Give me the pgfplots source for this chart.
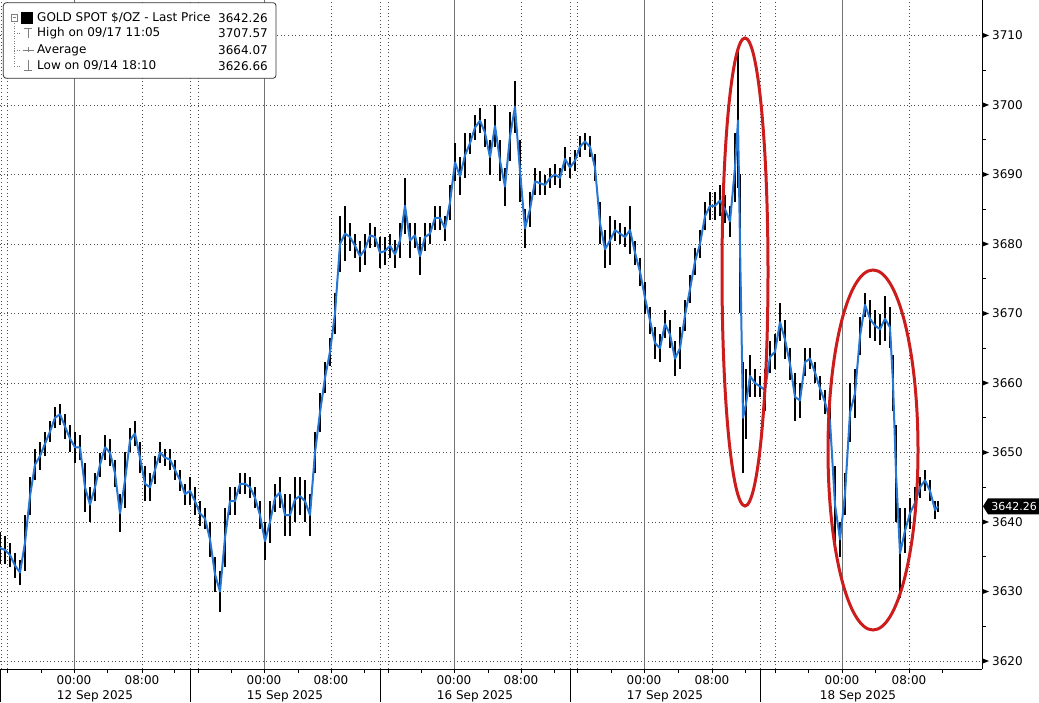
\documentclass[border=0pt]{standalone}
\usepackage{fontspec}
\setmainfont{DejaVu Sans}
\usepackage{pgfplots}
\pgfplotsset{compat=1.18}
\usepackage{pgfplotstable}
\definecolor{bbblue}{RGB}{38,118,212}
\definecolor{bbred}{RGB}{205,28,28}
\definecolor{gridgray}{RGB}{115,115,115}

\pgfplotstableread{
x h l
0 3638.5 3634
5 3638 3634
10 3637 3633.5
15 3635.5 3632
20 3634.5 3631
25 3641 3633
30 3646.5 3641
35 3650.5 3646
40 3651.5 3647.5
45 3653 3649.5
50 3654.5 3651.5
55 3656.5 3653.5
60 3657 3654
65 3655.5 3652
70 3654 3650
75 3653 3648.5
80 3652.5 3649
85 3648.5 3641.5
90 3645 3640
95 3647 3643
100 3650 3646.5
105 3652.5 3649
110 3652 3648
115 3649 3645
120 3644 3638.5
125 3650 3642
130 3653.5 3650
135 3654.5 3651
140 3651.5 3647
145 3648 3643
150 3647 3643
155 3649.5 3645.5
160 3651.5 3648.5
165 3650.5 3648
170 3650.5 3647.5
175 3649 3646
180 3647.5 3644.5
185 3645.5 3642.5
190 3646.5 3642.5
195 3645 3641
200 3643 3639.5
205 3642 3639
210 3640 3635
215 3635 3630
220 3633 3627
225 3642 3633.5
230 3645 3641
235 3645 3641
240 3647 3644
245 3647 3644
250 3646.5 3643.5
255 3645 3642
260 3643 3639
265 3640 3634.5
270 3643 3637
275 3645.5 3641.5
280 3646.5 3642
285 3644 3638
290 3644 3638
295 3646.5 3640
300 3646.5 3641
305 3646 3640
310 3644 3638
315 3653 3647
320 3658.5 3653
325 3663 3658.5
330 3666.5 3662.5
335 3673 3667
340 3684 3676
345 3685.5 3677.5
350 3683 3679
355 3681.5 3678
360 3680.5 3676
365 3681.5 3677
370 3683 3679.5
375 3682.5 3679.5
380 3681 3676.5
385 3681 3677
390 3681.5 3678
395 3680.5 3676.5
400 3683 3678
405 3689.5 3681.5
410 3683 3678
415 3683 3679.5
420 3681 3675.5
425 3683 3679
430 3683 3680
435 3685.5 3682
440 3685.5 3682
445 3684 3680.5
450 3688.5 3683.5
455 3694.5 3689
460 3692.5 3687
465 3696 3689.5
470 3696 3693
475 3698.5 3695
480 3699.5 3696
485 3698 3694
490 3695 3690
495 3700 3694
500 3695 3689
505 3691 3685.5
510 3699 3692
515 3703.5 3696
520 3695 3686
525 3685 3679.5
530 3687.5 3682.5
535 3691 3687
540 3690.5 3687
545 3690 3687
550 3691 3688
555 3691.5 3688.5
560 3691 3688
565 3694 3690.5
570 3692.5 3689.5
575 3693.5 3690.5
580 3695.5 3692.5
585 3696 3693.5
590 3695.5 3692.5
595 3693 3689
600 3686 3680
605 3682 3676.5
610 3684 3677
615 3683.5 3680.5
620 3683 3680
625 3682.5 3679.5
630 3685.5 3678.5
635 3680.5 3677
640 3678 3674
645 3674.5 3670
650 3671 3667
655 3668 3663.5
660 3667 3663
665 3670.5 3666.5
670 3669 3665
675 3666 3661
680 3668 3662
685 3672 3667.5
690 3675.5 3671.5
695 3679.5 3675.5
700 3682 3678
705 3686 3682
710 3687.5 3683.5
715 3687.5 3683.5
720 3688.5 3684
725 3687 3683
730 3685.5 3681
735 3696 3686
738 3707.57 3688
740 3690 3670
743 3663 3647
746 3662 3652
750 3664 3658
755 3662 3658
760 3661 3658
765 3662 3656
770 3666 3661.5
775 3667 3662
780 3671.5 3666
785 3669 3663.5
790 3665 3660.5
795 3661.5 3654.5
800 3660 3655
805 3665 3661
810 3665 3662
815 3663 3660
820 3661 3657.5
825 3659 3655.5
830 3657 3652
835 3648 3637
840 3640 3635
845 3647 3641
850 3660 3651.5
855 3662 3655
860 3669.5 3664
865 3673 3669.5
870 3672 3666.5
875 3670.5 3666
880 3670 3665.5
885 3672.5 3666
890 3671 3665
893 3664 3656
896 3654 3640
900 3642 3629
905 3642 3635.5
910 3643.5 3639
915 3645 3640.5
920 3646.5 3643.5
925 3647.5 3644.5
930 3646 3643
935 3643 3640.5
938 3643 3641.5
}\gold

\begin{document}
\begin{tikzpicture}[font=\fontsize{12}{14}\selectfont]
\begin{axis}[
  at={(0pt,0pt)}, anchor=south west,
  width=982pt, height=669pt, scale only axis,
  xmin=0, xmax=982, ymin=3618.85, ymax=3715.1,
  axis x line*=bottom, axis y line*=right,
  axis line style={black, line width=0.9pt},
  clip=false,
  tick align=outside,
  major tick length=4pt, minor tick length=4pt,
  tick style={black, line width=0.8pt},
  ytick={3620,3630,3640,3650,3660,3670,3680,3690,3700,3710},
  minor y tick num=1,
  yticklabel pos=right,
  yticklabel style={anchor=west, inner sep=0pt, xshift=6pt},
  /pgf/number format/assume math mode=true,
  /pgf/number format/1000 sep={},
  ymajorgrids,
  major grid style={black!70, dash pattern=on 1pt off 2.6pt, line width=0.6pt},
  xtick={7,41,74,107,142,174,198,231,264,298,331,364,388,421,454,488,521,554,577,611,644,678,712,745,775,808,842,875,909,942},
  xticklabels={,,00:00,,08:00,,,,00:00,,08:00,,,,00:00,,08:00,,,,00:00,,08:00,,,,00:00,,08:00,},
  xticklabel style={anchor=base, inner sep=0pt, yshift=-11pt},
]
% vertical grid lines
\pgfplotsinvokeforeach{74,264,454,644,842}{
  \draw[gridgray, line width=0.8pt] (axis cs:#1,3618.85) -- (axis cs:#1,3715.1);
}
\pgfplotsinvokeforeach{1,7,142,190,198,331,380,388,521,570,577,712,760,775,909}{
  \draw[black!70, dash pattern=on 1pt off 2.6pt, line width=0.6pt] (axis cs:#1,3618.85) -- (axis cs:#1,3715.1);
}
% session separators below the axis
\pgfplotsinvokeforeach{0.5,190,380,570,760}{
  \draw[black, line width=0.8pt] (axis cs:#1,3618.85) -- ++(0pt,-33pt);
}
% y tick arrow markers
\pgfplotsinvokeforeach{3620,3630,3640,3650,3660,3670,3680,3690,3700,3710}{
  \fill[black] (axis cs:982,#1) ++(0.5pt,2.6pt) -- ++(6.5pt,-2.6pt) -- ++(-6.5pt,-2.6pt) -- cycle;
}
% date labels
\node[anchor=base, inner sep=0pt] at ([yshift=-30pt]axis cs:95,3618.85) {12 Sep 2025};
\node[anchor=base, inner sep=0pt] at ([yshift=-30pt]axis cs:285,3618.85) {15 Sep 2025};
\node[anchor=base, inner sep=0pt] at ([yshift=-30pt]axis cs:475,3618.85) {16 Sep 2025};
\node[anchor=base, inner sep=0pt] at ([yshift=-30pt]axis cs:665,3618.85) {17 Sep 2025};
\node[anchor=base, inner sep=0pt] at ([yshift=-30pt]axis cs:858,3618.85) {18 Sep 2025};

% price series: candle ranges and the close line
\addplot[black, mark=none, line width=0.7pt, line join=round, forget plot] table[x=x, y expr={(\thisrow{h}+\thisrow{l})/2}] {\gold};
\addplot[draw=none, mark=none, forget plot,
  error bars/.cd, y dir=both, y explicit,
  error bar style={draw=black, line width=1.6pt}, error mark=none]
  table[x=x, y expr={(\thisrow{h}+\thisrow{l})/2}, y error expr={(\thisrow{h}-\thisrow{l})/2}] {\gold};
\addplot[bbblue, mark=none, line width=2pt, line join=round] table[x=x, y expr={(\thisrow{h}+\thisrow{l})/2}] {\gold};

% last price tag
\fill[black] (axis cs:982,3642.26) ++(1pt,0pt) -- ++(5pt,8pt) -- ++(51pt,0pt) -- ++(0pt,-16pt) -- ++(-51pt,0pt) -- cycle;
\node[white, anchor=east, inner sep=0pt, font=\fontsize{11}{13}\selectfont] at ([xshift=55pt]axis cs:982,3642.26) {3642.26};
\end{axis}

% red annotation ellipses
\draw[bbred, line width=3pt] (745pt,397pt) ellipse [x radius=23pt, y radius=234pt];
\draw[bbred, line width=3pt] (873pt,219pt) ellipse [x radius=45pt, y radius=180pt];

% legend box
\draw[black!80, line width=0.8pt, fill=white, rounded corners=3pt] (3.3pt,666.3pt) rectangle (276pt,590.7pt);
\draw[gray, line width=0.6pt, dash pattern=on 1pt off 1.5pt] (14pt,648pt) -- (14pt,603pt) -- (20pt,603pt);
\draw[gray, line width=0.6pt, dash pattern=on 1pt off 1.5pt] (14pt,635.7pt) -- (20pt,635.7pt);
\draw[gray, line width=0.6pt, dash pattern=on 1pt off 1.5pt] (14pt,619pt) -- (20pt,619pt);
\draw[gray, line width=0.6pt, fill=white] (11pt,654.5pt) rectangle (17pt,648pt);
\draw[gray, line width=0.6pt] (12.5pt,651.2pt) -- (15.5pt,651.2pt);
\fill[black] (21pt,656.5pt) rectangle (33pt,644.5pt);
\draw[gray, line width=0.7pt] (24pt,641pt) -- (32pt,641pt) (28pt,641pt) -- (28pt,631pt);
\draw[gray, line width=0.7pt] (22.5pt,619pt) -- (33.5pt,619pt) (28pt,621.5pt) -- (28pt,616.5pt);
\draw[gray, line width=0.7pt] (28pt,609pt) -- (28pt,599pt) (24pt,599pt) -- (32pt,599pt);
\node[anchor=west, inner sep=0pt] at (37pt,651pt) {GOLD SPOT \$/OZ - Last Price};
\node[anchor=east, inner sep=0pt] at (268pt,651pt) {3642.26};
\node[anchor=west, inner sep=0pt] at (37pt,635.7pt) {High on 09/17 11:05};
\node[anchor=east, inner sep=0pt] at (268pt,635.7pt) {3707.57};
\node[anchor=west, inner sep=0pt] at (37pt,619pt) {Average};
\node[anchor=east, inner sep=0pt] at (268pt,619pt) {3664.07};
\node[anchor=west, inner sep=0pt] at (37pt,603pt) {Low on 09/14 18:10};
\node[anchor=east, inner sep=0pt] at (268pt,603pt) {3626.66};

\pgfresetboundingbox
\useasboundingbox (0pt,-33pt) rectangle (1039pt,669pt);
\end{tikzpicture}
\end{document}
